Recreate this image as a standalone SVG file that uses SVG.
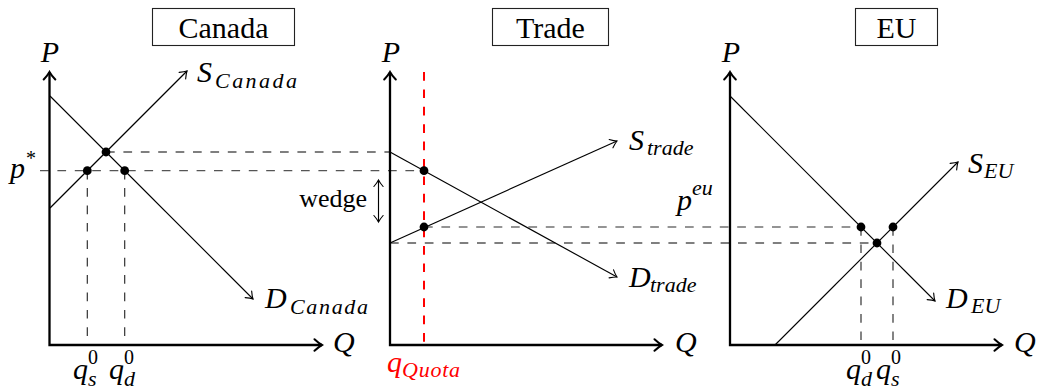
<svg xmlns="http://www.w3.org/2000/svg" width="1037" height="391" viewBox="0 0 1037 391">
<style>
.bg{fill:#fff}
.title{font-family:'Liberation Serif','DejaVu Serif','Noto Serif',serif;font-size:30px;fill:#000}
.box{fill:none;stroke:#222;stroke-width:1.1}
.m{font-family:'Liberation Serif','DejaVu Serif','Noto Serif',serif;font-style:italic;font-size:30px;fill:#000}
.sub{font-family:'Liberation Serif','DejaVu Serif','Noto Serif',serif;font-style:italic;font-size:22px;fill:#000}
.up{font-family:'Liberation Serif','DejaVu Serif','Noto Serif',serif;font-size:20px;fill:#000}
.rm{font-family:'Liberation Serif','DejaVu Serif','Noto Serif',serif;font-size:26px;fill:#000}
.red{fill:#ff0000}
.axis{fill:none;stroke:#000;stroke-width:2.3;marker-start:url(#axh);marker-end:url(#axh)}
.curve{fill:none;stroke:#000;stroke-width:1.15;marker-end:url(#ah)}
.plain{fill:none;stroke:#000;stroke-width:1.15}
.dash{fill:none;stroke:#2a2a2a;stroke-width:1.15;stroke-dasharray:8.7 8.7}
.dashg{fill:none;stroke:#555;stroke-width:1.3;stroke-dasharray:8.7 8.7}
.rdash{fill:none;stroke:#ff0000;stroke-width:2;stroke-dasharray:8.7 8.7}
.dot{fill:#000}
</style>
<defs>
<marker id="ah" viewBox="-8 -6 10 12" refX="0" refY="0" markerWidth="10" markerHeight="12" markerUnits="userSpaceOnUse" orient="auto-start-reverse">
<path d="M-6.5,-4.6 Q-2.5,-1.2 0,0 Q-2.5,1.2 -6.5,4.6" fill="none" stroke="#000" stroke-width="1.1" stroke-linecap="round"/>
</marker>
<marker id="axh" viewBox="-10 -8 12 16" refX="0" refY="0" markerWidth="12" markerHeight="16" markerUnits="userSpaceOnUse" orient="auto-start-reverse">
<path d="M-7.5,-5.8 Q-3,-1.6 0,0 Q-3,1.6 -7.5,5.8" fill="none" stroke="#000" stroke-width="2" stroke-linecap="round"/>
</marker>
</defs>
<rect class="bg" x="0" y="0" width="1037" height="391"/>

<g id="title-canada"><rect class="box" x="152.5" y="8.5" width="142" height="37"/><text class="title" x="223.5" y="38" text-anchor="middle">Canada</text></g>
<g id="title-trade"><rect class="box" x="492.5" y="8.5" width="116" height="37"/><text class="title" x="550.5" y="38" text-anchor="middle">Trade</text></g>
<g id="title-eu"><rect class="box" x="855.5" y="8.5" width="82" height="37"/><text class="title" x="896.5" y="38" text-anchor="middle">EU</text></g>

<g id="connectors">
<path class="dashg" d="M106,152 H390"/>
<path class="dashg" d="M40,170.7 H424"/>
<path class="dash" d="M87.3,170.7 V345"/>
<path class="dash" d="M124.7,170.7 V345"/>
<path class="dash" d="M424,227 H861"/>
<path class="dashg" d="M390,243 H877"/>
<path class="dash" d="M861,227 V345"/>
<path class="dash" d="M893,227 V345"/>
<path class="rdash" d="M424,72 V345"/>
<path class="plain" d="M378.5,180 V222" style="marker-start:url(#ah);marker-end:url(#ah)"/>
</g>

<g id="panel-canada">
<path class="axis" d="M49.5,72 V345 H322"/>
<path class="curve" d="M50,96 L253,299"/>
<path class="curve" d="M50,208 L187,71"/>
<circle class="dot" cx="106" cy="152" r="4.4"/>
<circle class="dot" cx="87.3" cy="170.7" r="4.4"/>
<circle class="dot" cx="124.7" cy="170.7" r="4.4"/>
</g>

<g id="panel-trade">
<path class="axis" d="M390,72 V345 H662"/>
<path class="curve" d="M390,152 L617,277"/>
<path class="curve" d="M390,243 L617,141"/>
<circle class="dot" cx="424" cy="170.7" r="4.4"/>
<circle class="dot" cx="424" cy="227" r="4.4"/>
</g>

<g id="panel-eu">
<path class="axis" d="M730,72 V345 H1002"/>
<path class="curve" d="M730,96 L935,301"/>
<path class="curve" d="M775,345 L958,162"/>
<circle class="dot" cx="861" cy="227" r="4.4"/>
<circle class="dot" cx="893" cy="227" r="4.4"/>
<circle class="dot" cx="877" cy="243" r="4.4"/>
</g>

<g id="labels-canada">
<text class="m" x="50" y="62" text-anchor="middle">P</text>
<text class="m" x="333" y="352">Q</text>
<text class="m" x="197" y="82">S</text><text class="sub" x="215" y="88" textLength="82">Canada</text>
<text class="m" x="265" y="308">D</text><text class="sub" x="290" y="314" textLength="78">Canada</text>
<text class="m" x="10" y="178">p</text><text class="up" x="26" y="165">*</text>
<text class="m" x="73" y="379">q</text><text class="up" x="88" y="364">0</text><text class="sub" x="88" y="386">s</text>
<text class="m" x="109" y="379">q</text><text class="up" x="124" y="364">0</text><text class="sub" x="124" y="386">d</text>
</g>

<g id="labels-trade">
<text class="m" x="391" y="62" text-anchor="middle">P</text>
<text class="m" x="675" y="352">Q</text>
<text class="m" x="629" y="150">S</text><text class="sub" x="647" y="155">trade</text>
<text class="m" x="629" y="287">D</text><text class="sub" x="650" y="292">trade</text>
<text class="rm" x="367" y="207" text-anchor="end">wedge</text>
<text class="m red" x="387" y="372">q</text><text class="sub red" x="402" y="377" textLength="58">Quota</text>
<text class="m" x="677" y="210">p</text><text class="sub" x="692" y="195">eu</text>
</g>

<g id="labels-eu">
<text class="m" x="731" y="62" text-anchor="middle">P</text>
<text class="m" x="1014" y="352">Q</text>
<text class="m" x="968" y="173">S</text><text class="sub" x="984" y="178">EU</text>
<text class="m" x="946" y="308">D</text><text class="sub" x="971" y="313">EU</text>
<text class="m" x="846" y="379">q</text><text class="up" x="861" y="364">0</text><text class="sub" x="861" y="386">d</text>
<text class="m" x="876" y="379">q</text><text class="up" x="891" y="364">0</text><text class="sub" x="891" y="386">s</text>
</g>
</svg>
